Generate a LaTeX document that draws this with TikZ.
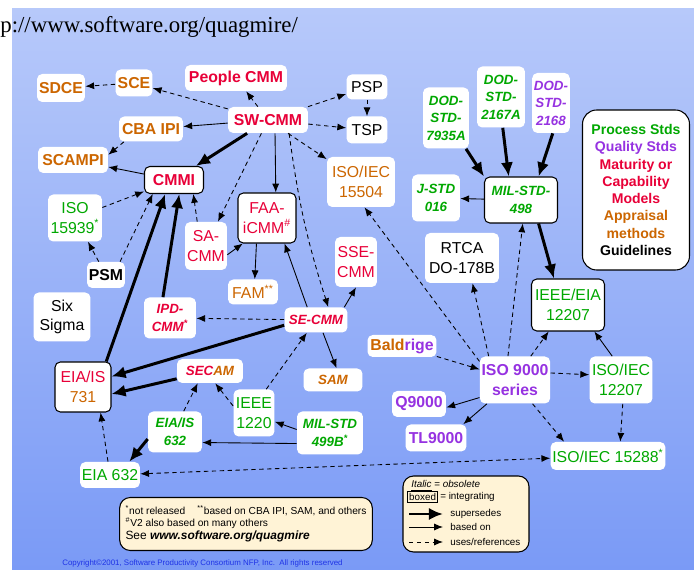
\documentclass[tikz,border=0pt]{standalone}
\usepackage{fontspec}
\setmainfont{Liberation Sans}
\newfontfamily\timesfont{Liberation Serif}
\usepackage{tikz}
\usetikzlibrary{shapes, arrows.meta, positioning}

\definecolor{qred}{RGB}{232,0,56}
\definecolor{qorange}{RGB}{204,102,0}
\definecolor{qgreen}{RGB}{0,168,0}
\definecolor{qpurple}{RGB}{150,50,225}
\definecolor{qtop}{RGB}{183,201,250}
\definecolor{qbot}{RGB}{122,154,246}
\definecolor{qcream}{RGB}{255,243,214}
\definecolor{qblue}{RGB}{30,50,230}

\tikzstyle{wbox} = [fill=white, rounded corners=3pt, align=center, inner sep=1pt]
\tikzstyle{ibox} = [wbox, draw=black, line width=0.6pt]
\tikzstyle{reg} = [font=\fontsize{9}{11}\selectfont]
\tikzstyle{bld} = [font=\fontsize{9}{11}\selectfont\bfseries]
\tikzstyle{obs} = [font=\fontsize{7.6}{10}\selectfont\bfseries\itshape]
\tikzstyle{bline} = [draw, line width=0.5pt, ->]
\tikzstyle{uline} = [bline, dash pattern=on 2.5pt off 2pt]
\tikzstyle{sline} = [draw, line width=1.7pt, -{Latex[length=8pt, width=7pt]}]
\tikzstyle{keytext} = [inner sep=0pt, font=\fontsize{5.6}{6.5}\selectfont]

\begin{document}
\begin{tikzpicture}[x=0.02cm, y=-0.02cm, >={Latex[length=5pt, width=4pt]}]
\useasboundingbox (0,0) rectangle (694,570);
\shade [top color=qtop, bottom color=qbot] (12,9) rectangle (694,570);
\node [anchor=base west, inner sep=0pt, font=\timesfont\fontsize{13}{15}\selectfont] (url) at (0,33) {p://www.software.org/quagmire/};

% CMM family
\node [wbox, bld, text=qred, minimum width=1.6cm, minimum height=0.52cm] (swcmm) at (268,120) {SW-CMM};
\node [wbox, bld, text=qred, minimum width=2.04cm, minimum height=0.52cm] (people) at (236,78) {People CMM};
\node [wbox, bld, text=qorange, minimum width=0.74cm, minimum height=0.54cm] (sce) at (134,83) {SCE};
\node [wbox, bld, text=qorange, minimum width=0.96cm, minimum height=0.56cm] (sdce) at (61,88) {SDCE};
\node [wbox, bld, text=qorange, minimum width=1.28cm, minimum height=0.5cm] (cbaipi) at (151,129) {CBA IPI};
\node [wbox, bld, text=qorange, minimum width=1.4cm, minimum height=0.52cm] (scampi) at (73,160) {SCAMPI};
\node [ibox, bld, text=qred, minimum width=1.18cm, minimum height=0.54cm] (cmmi) at (174,180) {CMMI};
\node [wbox, reg, minimum width=0.82cm, minimum height=0.5cm] (psp) at (367,87) {PSP};
\node [wbox, reg, minimum width=0.82cm, minimum height=0.54cm] (tsp) at (367,130) {TSP};
\node [wbox, reg, text=qorange, minimum width=1.36cm, minimum height=1cm] (iso15504) at (361,182) {ISO/IEC\\15504};
\node [wbox, reg, text=qgreen, minimum width=1.08cm, minimum height=0.94cm] (iso15939) at (75,218) {ISO\\15939\textsuperscript{*}};
\node [wbox, bld, minimum width=0.76cm, minimum height=0.52cm] (psm) at (106,275) {PSM};
\node [wbox, reg, minimum width=1.14cm, minimum height=0.98cm] (sixsigma) at (62,317) {Six\\Sigma};
\node [wbox, reg, text=qred, minimum width=0.84cm, minimum height=0.96cm] (sacmm) at (206,246) {SA-\\CMM};
\node [ibox, reg, text=qred, minimum width=1.16cm, minimum height=1cm] (faa) at (267,218) {FAA-\\iCMM\textsuperscript{\#}};
\node [wbox, reg, text=qorange, minimum width=1cm, minimum height=0.5cm] (fam) at (253,292) {FAM\textsuperscript{**}};
\node [wbox, obs, text=qred, minimum width=1.04cm, minimum height=0.82cm] (ipd) at (170,318) {IPD-\\CMM\textsuperscript{*}};
\node [wbox, obs, text=qred, minimum width=1.26cm, minimum height=0.5cm] (secmm) at (316,320) {SE-CMM};
\node [wbox, reg, text=qred, minimum width=0.84cm, minimum height=1cm] (ssecmm) at (356,262) {SSE-\\CMM};
\node [ibox, reg, minimum width=1.12cm, minimum height=1cm] (eia731) at (83,387) {\textcolor{qred}{EIA/IS}\\\textcolor{qorange}{731}};
\node [wbox, obs, minimum width=1.32cm, minimum height=0.48cm] (secam) at (210,371) {\textcolor{qred}{SEC}\textcolor{qorange}{AM}};
\node [wbox, obs, text=qorange, minimum width=1.18cm, minimum height=0.46cm] (sam) at (333,380) {SAM};

% systems engineering
\node [wbox, reg, text=qgreen, minimum width=0.82cm, minimum height=0.94cm] (ieee1220) at (254,413) {IEEE\\1220};
\node [wbox, obs, text=qgreen, minimum width=1.08cm, minimum height=0.82cm] (eia632is) at (175,432) {EIA/IS\\632};
\node [wbox, obs, text=qgreen, minimum width=1.32cm, minimum height=0.86cm] (mil499) at (330,433) {MIL-STD\\499B\textsuperscript{*}};
\node [wbox, reg, text=qgreen, minimum width=1.18cm, minimum height=0.52cm] (eia632) at (110,475) {EIA 632};

% DOD / ISO side
\node [wbox, obs, text=qgreen, minimum width=0.92cm, minimum height=1.22cm] (dod7935) at (446,118) {DOD-\\STD-\\7935A};
\node [wbox, obs, text=qgreen, minimum width=0.96cm, minimum height=1.22cm] (dod2167) at (501,97) {DOD-\\STD-\\2167A};
\node [wbox, obs, text=qpurple, minimum width=0.74cm, minimum height=1.2cm] (dod2168) at (551,103) {DOD-\\STD-\\2168};
\node [wbox, obs, text=qgreen, minimum width=0.96cm, minimum height=0.94cm] (jstd) at (436,198) {J-STD\\016};
\node [ibox, obs, text=qgreen, minimum width=1.46cm, minimum height=0.92cm] (mil498) at (521,200) {MIL-STD-\\498};
\node [wbox, reg, minimum width=1.48cm, minimum height=1cm] (rtca) at (462,258) {RTCA\\DO-178B};
\node [wbox, bld, minimum width=1.38cm, minimum height=0.44cm] (baldrige) at (402,346) {\textcolor{qorange}{Bald}\textcolor{qpurple}{rige}};
\node [wbox, bld, text=qpurple, minimum width=1.4cm, minimum height=0.94cm] (iso9000) at (515,380) {ISO 9000\\series};
\node [wbox, reg, text=qgreen, minimum width=1.26cm, minimum height=0.94cm] (iso12207) at (621,380) {ISO/IEC\\12207};
\node [ibox, reg, text=qgreen, minimum width=1.46cm, minimum height=1.04cm] (ieee12207) at (568,305) {IEEE/EIA\\12207};
\node [wbox, bld, text=qpurple, minimum width=1.08cm, minimum height=0.52cm] (q9000) at (419,404) {Q9000};
\node [wbox, bld, text=qpurple, minimum width=1.22cm, minimum height=0.54cm] (tl9000) at (436,438) {TL9000};
\node [wbox, reg, text=qgreen, minimum width=2.22cm, minimum height=0.56cm] (iso15288) at (608,456) {ISO/IEC 15288\textsuperscript{*}};

% colour key
\node [wbox, draw=black, line width=0.6pt, rounded corners=8pt, minimum width=2.14cm, minimum height=3.2cm, font=\fontsize{8}{9.8}\selectfont\bfseries] (kinds) at (636,190) {\textcolor{qgreen}{Process Stds}\\\textcolor{qpurple}{Quality Stds}\\\textcolor{qred}{Maturity or}\\\textcolor{qred}{Capability}\\\textcolor{qred}{Models}\\\textcolor{qorange}{Appraisal}\\\textcolor{qorange}{methods}\\Guidelines};

% notes
\node [draw=black, line width=0.6pt, fill=qcream, rounded corners=6pt, align=left, minimum width=5.04cm, minimum height=1.06cm, font=\fontsize{5.8}{6.6}\selectfont] (notes) at (246,524) {\textsuperscript{*}not released\hspace{1.2em}\textsuperscript{**}based on CBA IPI, SAM, and others\\\textsuperscript{\#}V2 also based on many others\\[1pt]{\fontsize{6.8}{8}\selectfont See \textbf{\textit{www.software.org/quagmire}}}};

% line key
\node [draw=black, line width=0.6pt, fill=qcream, rounded corners=6pt, minimum width=2.52cm, minimum height=1.52cm] (key) at (466,514) {};
\node [keytext, anchor=west] (kitalic) at (411,486) {\textit{\underline{Italic}} = \textit{obsolete}};
\node [keytext, anchor=west, draw=black, line width=0.5pt, inner sep=1pt] (kboxed) at (407,497) {boxed};
\node [keytext, right=1pt of kboxed] (kint) {= integrating};
\coordinate (ks1) at (409,514);
\coordinate (ks2) at (443,514);
\coordinate (kb1) at (409,527);
\coordinate (kb2) at (443,527);
\coordinate (ku1) at (409,542);
\coordinate (ku2) at (443,542);
\path [sline] (ks1) -- (ks2);
\path [bline] (kb1) -- (kb2);
\path [uline] (ku1) -- (ku2);
\node [keytext, right=4pt of ks2] (ksup) {supersedes};
\node [keytext, right=4pt of kb2] (kbas) {based on};
\node [keytext, right=4pt of ku2] (kuse) {uses/references};

\node [anchor=base west, inner sep=0pt, text=qblue, font=\fontsize{4.5}{5}\selectfont] (copyright) at (62,566) {Copyright\textcopyright2001, Software Productivity Consortium NFP, Inc.\ \ All rights reserved};

% connectors
\path [uline] (swcmm) -- (sce);
\path [uline] (sce) -- (sdce);
\path [uline] (swcmm) -- (people);
\path [bline] (swcmm) -- (cbaipi);
\path [uline] ([xshift=3pt]cbaipi.south west) -- ([yshift=3pt]scampi.east);
\path [bline] (cmmi) -- (scampi);
\path [sline] (swcmm) -- (cmmi);
\path [uline] (swcmm) -- (psp);
\path [uline] (swcmm) -- (tsp);
\path [uline] (psp) -- (tsp);
\path [uline] (swcmm) -- (iso15504);
\path [uline] (swcmm) -- (sacmm);
\path [bline] ([xshift=4pt]swcmm.south) -- ([xshift=5pt]faa.north);
\path [uline] ([xshift=12pt]swcmm.south) to [bend right=5] ([xshift=7pt]secmm.north);
\path [uline] (iso15939) -- (cmmi);
\path [uline] (psm) -- (iso15939);
\path [uline] ([xshift=-3pt]psm.north east) -- ([xshift=5pt]cmmi.south west);
\path [sline] ([xshift=-3pt]eia731.north east) -- ([xshift=-5pt]cmmi.south);
\path [sline] ([xshift=-4pt]ipd.north) -- ([xshift=3pt]cmmi.south);
\path [uline] ([xshift=-5pt]sacmm.north) -- ([xshift=11pt]cmmi.south);
\path [bline] ([yshift=-5pt]sacmm.east) -- ([xshift=3pt]faa.south west);
\path [bline] ([xshift=-6pt]faa.south) -- ([xshift=1pt]fam.north);
\path [bline] ([xshift=-5pt]secmm.north) -- ([xshift=10pt]faa.south);
\path [uline] (secmm) -- (ipd);
\path [bline] ([xshift=-2pt]secmm.north east) -- (ssecmm.south);
\path [bline] ([xshift=4pt]secmm.south) -- ([xshift=2pt]sam.north);
\path [sline] ([yshift=-3pt]secmm.west) -- ([yshift=6pt]eia731.east);
\path [sline] (secam) -- ([yshift=-4pt]eia731.east);
\path [uline] (eia632) -- ([xshift=10pt]eia731.south);
\path [sline] ([yshift=-4pt]eia632is.west) -- ([xshift=11pt]eia632.north);
\path [uline] ([xshift=5pt]eia632is.north) -- ([xshift=-7pt]secam.south);
\path [uline] ([yshift=4pt]ieee1220.west) -- ([xshift=3pt]secam.south);
\path [uline] ([xshift=7pt]ieee1220.north) -- (secmm);
\path [bline] ([yshift=2pt]mil499.west) -- ([yshift=-5pt]ieee1220.east);
\path [bline] ([yshift=-6pt]mil499.west) -- ([yshift=-6pt]eia632is.east);
\path [uline, <->] (eia632) -- (iso15288);
\path [uline] ([yshift=-3pt]iso9000.north west) -- ([xshift=2pt]iso15504.south);
\path [uline] ([xshift=-15pt]iso9000.north) -- ([xshift=6pt]rtca.south);
\path [uline] ([xshift=-4pt]iso9000.north) -- ([xshift=1pt]mil498.south);
\path [uline] ([xshift=9pt]iso9000.north) -- ([xshift=-11pt]ieee12207.south);
\path [uline] ([yshift=4pt]iso9000.east) -- ([yshift=3pt]iso12207.west);
\path [bline] ([yshift=-10pt]iso9000.west) -- ([yshift=-2pt]q9000.east);
\path [bline] ([xshift=-16pt]iso9000.south) -- ([xshift=-2pt]tl9000.north east);
\path [uline] ([xshift=10pt]iso9000.south) -- ([xshift=-25pt]iso15288.north);
\path [uline] (baldrige) -- (iso9000);
\path [bline] ([xshift=-5pt]iso12207.north) -- ([xshift=15pt]ieee12207.south);
\path [uline] ([xshift=1pt]iso12207.south) -- ([xshift=7pt]iso15288.north);
\path [sline] ([xshift=10pt]mil498.south) -- ([xshift=-8pt]ieee12207.north);
\path [bline] (mil498) -- (jstd);
\path [sline] (dod7935) -- (mil498.north west);
\path [sline] ([xshift=1pt]dod2167.south) -- ([xshift=-7pt]mil498.north);
\path [sline] ([xshift=1pt]dod2168.south) -- ([xshift=10pt]mil498.north);
\end{tikzpicture}
\end{document}
